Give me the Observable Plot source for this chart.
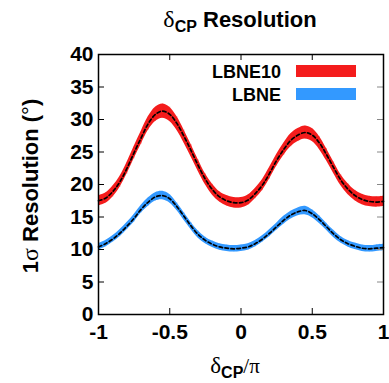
<!DOCTYPE html>
<html>
<head>
<meta charset="utf-8">
<script src="https://cdn.jsdelivr.net/npm/d3@7"></script>
<script src="https://cdn.jsdelivr.net/npm/@observablehq/plot@0.6"></script>
<style>
  html, body { margin: 0; padding: 0; background: #fff; }
  svg { display: block; }
</style>
</head>
<body>
<div id="chart"></div>
<script>
// δCP / π sample points
const deltaCP = [-1.00,-0.95,-0.90,-0.85,-0.80,-0.75,-0.70,-0.65,-0.60,-0.55,-0.50,-0.45,-0.40,-0.35,-0.30,-0.25,-0.20,-0.15,-0.10,-0.05,
                 0.00,0.05,0.10,0.15,0.20,0.25,0.30,0.35,0.40,0.45,0.50,0.55,0.60,0.65,0.70,0.75,0.80,0.85,0.90,0.95,1.00];
// central (dashed) curves
const lbne10 = [17.5,17.9,18.9,20.4,22.5,24.9,27.2,29.4,30.8,31.3,30.8,29.4,27.4,25.2,22.9,20.8,19.2,18.1,17.5,17.2,
                17.2,17.6,18.6,19.9,21.7,23.7,25.4,26.8,27.6,28.0,27.6,26.4,24.6,22.6,20.7,19.3,18.3,17.7,17.4,17.3,17.4];
const lbne   = [10.4,10.9,11.6,12.5,13.6,14.8,16.2,17.3,18.1,18.3,17.8,16.6,15.1,13.6,12.3,11.4,10.8,10.4,10.2,10.1,
                10.2,10.4,10.9,11.6,12.5,13.5,14.5,15.3,15.8,16.0,15.5,14.6,13.5,12.4,11.5,10.9,10.5,10.2,10.1,10.2,10.3];
// band half-widths
const lbne10Band = [0.8,0.8,0.85,0.85,0.9,0.95,1.0,1.05,1.1,1.1,1.1,1.05,1.0,0.95,0.9,0.85,0.85,0.8,0.8,0.8,
                    0.8,0.8,0.8,0.85,0.9,0.9,0.95,1.0,1.0,1.0,1.0,1.0,0.95,0.9,0.85,0.85,0.8,0.8,0.8,0.8,0.8];
const lbneBand   = [0.5,0.5,0.5,0.55,0.55,0.6,0.6,0.65,0.65,0.65,0.65,0.6,0.6,0.55,0.55,0.5,0.5,0.5,0.5,0.5,
                    0.5,0.5,0.5,0.5,0.55,0.55,0.6,0.6,0.6,0.65,0.6,0.6,0.55,0.55,0.5,0.5,0.5,0.5,0.5,0.5,0.5];

const seriesNames = ["LBNE10", "LBNE"];
const seriesColors = ["#f41c1c", "#3399ff"];
const xTicks = [-1, -0.5, 0, 0.5, 1];
const xTickLabels = ["-1", "-0.5", "0", "0.5", "1"];
const yTicks = [0, 5, 10, 15, 20, 25, 30, 35, 40];
const yTickLabels = ["0", "5", "10", "15", "20", "25", "30", "35", "40"];

const rows = [];
[lbne10, lbne].forEach((vals, s) => {
  const bands = s === 0 ? lbne10Band : lbneBand;
  vals.forEach((v, i) => rows.push({series: seriesNames[s], x: deltaCP[i], v, lo: v - bands[i], hi: v + bands[i]}));
});

const W = 389, H = 383, mT = 54, mB = 69, mL = 98, mR = 6;
const fw = W - mL - mR, fh = H - mT - mB, tl = 6;
const font = "'Liberation Sans', Arial, Helvetica, sans-serif";

const colorOf = d => seriesColors[seriesNames.indexOf(d.series)];

const plot = Plot.plot({
  width: W, height: H,
  marginTop: mT, marginBottom: mB, marginLeft: mL, marginRight: mR,
  style: {fontFamily: font, background: "#fff", overflow: "visible"},
  x: {domain: [-1, 1]},
  y: {domain: [0, 40]},
  marks: [
    Plot.areaY(rows, {x: "x", y1: "lo", y2: "hi", z: "series", fill: colorOf, curve: "catmull-rom"}),
    Plot.ruleX(rows, {x: "x", y1: "lo", y2: "hi", stroke: colorOf, strokeWidth: 1, strokeOpacity: 0.35}),
    Plot.line(rows, {x: "x", y: "v", z: "series", stroke: "#000", strokeWidth: 1.7, strokeDasharray: "3.5,2.5", curve: "catmull-rom"}),
    Plot.tickY(yTicks.slice(1, -1), {y: d => d, insetRight: fw - tl, stroke: "#000", strokeWidth: 1}),
    Plot.tickY(yTicks.slice(1, -1), {y: d => d, insetLeft: fw - tl, stroke: "#888", strokeWidth: 1}),
    Plot.tickX(xTicks.slice(1, -1), {x: d => d, insetTop: fh - tl, stroke: "#000", strokeWidth: 1}),
    Plot.tickX(xTicks.slice(1, -1), {x: d => d, insetBottom: fh - tl, stroke: "#000", strokeWidth: 1}),
    Plot.frame({stroke: "#000", strokeWidth: 1.5}),
    Plot.axisX({ticks: xTicks, tickSize: 0, tickPadding: 10, tickFormat: d => xTickLabels[xTicks.indexOf(d)],
                fontSize: 21, fontWeight: "bold", label: null}),
    Plot.axisY({ticks: yTicks, tickSize: 0, tickPadding: 5, tickFormat: d => yTickLabels[yTicks.indexOf(d)],
                fontSize: 21, fontWeight: "bold", label: null})
  ]
});

const svg = d3.select(plot);

// Title
const t = svg.append("text").attr("x", 240).attr("y", 27).attr("text-anchor", "middle")
  .style("font-family", font).style("font-size", "22px").style("font-weight", "bold").attr("fill", "#000");
t.append("tspan").style("font-family", "'Liberation Serif', serif").style("font-weight", "normal").style("font-size", "24px").text("δ");
t.append("tspan").style("font-size", "16px").attr("dy", 5).text("CP");
t.append("tspan").attr("dy", -5).text(" Resolution");

// X axis label
const xl = svg.append("text").attr("x", 235).attr("y", 373).attr("text-anchor", "middle")
  .style("font-family", font).style("font-size", "20px").style("font-weight", "bold").attr("fill", "#000");
xl.append("tspan").style("font-family", "'Liberation Serif', serif").style("font-weight", "normal").style("font-size", "23px").text("δ");
xl.append("tspan").style("font-size", "16px").attr("dy", 5).text("CP");
xl.append("tspan").attr("dy", -5).style("font-family", "'Liberation Serif', serif").style("font-weight", "normal").style("font-size", "21px").text("/π");

// Y axis label
const yl = svg.append("text").attr("transform", `translate(38,${mT + fh / 2 + 2}) rotate(-90)`).attr("text-anchor", "middle")
  .style("font-family", font).style("font-size", "22px").style("font-weight", "bold").attr("fill", "#000");
yl.append("tspan").text("1");
yl.append("tspan").style("font-family", "'Liberation Serif', serif").style("font-weight", "normal").style("font-size", "24px").text("σ");
yl.append("tspan").text(" Resolution (");
yl.append("tspan").style("font-weight", "normal").text("°");
yl.append("tspan").text(")");

// Legend
const legendY = [71, 94];
seriesNames.forEach((name, i) => {
  svg.append("text").attr("x", 281).attr("y", legendY[i] + 7).attr("text-anchor", "end")
    .style("font-family", font).style("font-size", "18px").style("font-weight", "bold").attr("fill", "#000").text(name);
  svg.append("rect").attr("x", 296).attr("y", legendY[i] - 6).attr("width", 60).attr("height", 12).attr("fill", seriesColors[i]);
});

document.getElementById("chart").appendChild(plot);
</script>
</body>
</html>
